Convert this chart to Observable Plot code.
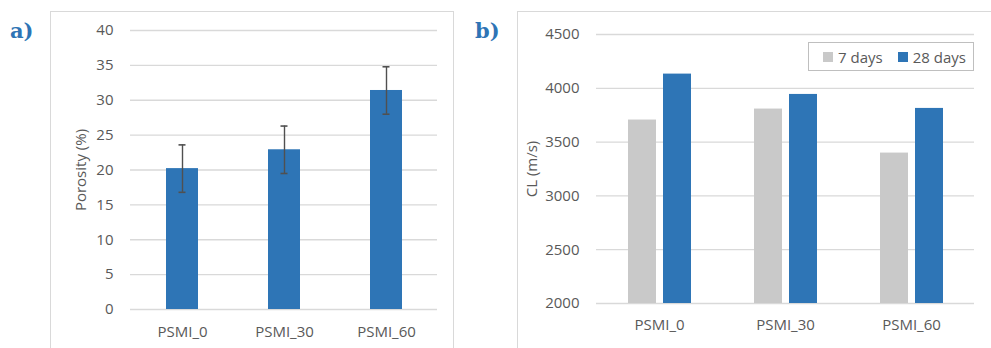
<!DOCTYPE html>
<html>
<head>
<meta charset="utf-8">
<script src="https://cdn.jsdelivr.net/npm/d3@7"></script>
<script src="https://cdn.jsdelivr.net/npm/@observablehq/plot@0.6"></script>
<style>
  html, body { margin: 0; padding: 0; background: #fff; }
  #root { position: relative; width: 991px; height: 348px; overflow: hidden; background: #fff; font-family: "Open Sans", sans-serif; }
  .panel { position: absolute; border: 1px solid #d9d9d9; box-sizing: border-box; }
  .tag { position: absolute; font-family: "DejaVu Serif", "Liberation Serif", serif; font-weight: bold; font-size: 21px; color: #2E74B5; line-height: 1; }
  .chart { position: absolute; top: 0; }
  #legendBox { position: absolute; left: 808px; top: 42px; width: 166px; height: 29px; border: 1px solid #bfbfbf; box-sizing: border-box; background: #fff; display: flex; align-items: center; justify-content: flex-start; padding-left: 14px; overflow: hidden; }
  #legendBox > div { margin: 0 !important; min-height: 0 !important; flex-wrap: nowrap !important; white-space: nowrap; flex: none; }
  #legendBox svg { margin-right: 5px !important; }
</style>
</head>
<body>
<div id="root">
  <div class="panel" style="left:50px; top:11px; width:404px; height:400px;"></div>
  <div class="panel" style="left:517px; top:11px; width:500px; height:400px;"></div>
  <div class="tag" style="left:10px; top:20px;">a)</div>
  <div class="tag" style="left:475px; top:20px;">b)</div>
  <div id="left" class="chart" style="left:0px;"></div>
  <div id="right" class="chart" style="left:480px;"></div>
  <div id="legendBox"></div>
</div>
<script>
// ---- Data ----
const categories = ["PSMI_0", "PSMI_30", "PSMI_60"];
const porosity = [20.2, 22.9, 31.4];
const porosityErr = [3.4, 3.4, 3.4];
const porosityTicks = [0, 5, 10, 15, 20, 25, 30, 35, 40];

const seriesLabels = ["7 days", "28 days"];
const cl7 = [3705, 3807, 3398];
const cl28 = [4132, 3943, 3813];
const clTicks = [2000, 2500, 3000, 3500, 4000, 4500];

// ---- Styles ----
const blue = "#2E75B6";
const gray = "#C9C9C9";
const gridColor = "#D9D9D9";
const textColor = "#595959";

const porosityData = categories.map((c, i) => ({cat: c, v: porosity[i], lo: porosity[i] - porosityErr[i], hi: porosity[i] + porosityErr[i]}));
const clData = categories.flatMap((c, i) => [
  {cat: c, s: seriesLabels[0], v: cl7[i]},
  {cat: c, s: seriesLabels[1], v: cl28[i]}
]);

const baseStyle = {fontFamily: "'Open Sans', sans-serif", fontSize: "15px", color: textColor, background: "transparent", overflow: "visible"};

const left = Plot.plot({
  width: 480, height: 348,
  marginLeft: 130, marginRight: 43, marginTop: 30, marginBottom: 39,
  style: baseStyle,
  x: {domain: categories, paddingInner: 0.69, paddingOuter: 0.345, tickSize: 0, tickPadding: 17, label: null},
  y: {domain: [0, 40], ticks: porosityTicks, tickFormat: d => String(d), tickSize: 0, tickPadding: 17, label: "Porosity (%)", labelAnchor: "center", labelOffset: 55, labelArrow: "none"},
  marks: [
    Plot.ruleY(porosityTicks, {stroke: gridColor, strokeWidth: 1.3}),
    Plot.barY(porosityData, {x: "cat", y: "v", fill: blue}),
    Plot.ruleX(porosityData, {x: "cat", y1: "lo", y2: "hi", stroke: "#505050", strokeWidth: 1.4}),
    Plot.tickY(porosityData, {x: "cat", y: "lo", stroke: "#505050", strokeWidth: 1.6, insetLeft: 12.5, insetRight: 12.5}),
    Plot.tickY(porosityData, {x: "cat", y: "hi", stroke: "#505050", strokeWidth: 1.6, insetLeft: 12.5, insetRight: 12.5})
  ]
});
document.getElementById("left").appendChild(left);

const right = Plot.plot({
  width: 511, height: 348,
  marginLeft: 115, marginRight: 17, marginTop: 34, marginBottom: 45,
  style: baseStyle,
  fx: {domain: categories, paddingInner: 0, paddingOuter: 0, tickSize: 0, tickPadding: 16, label: null, axis: "bottom"},
  x: {domain: seriesLabels, paddingInner: 0.214, paddingOuter: 0.861, axis: null},
  y: {domain: [clTicks[0], clTicks[clTicks.length - 1]], ticks: clTicks, tickFormat: d => String(d), tickSize: 0, tickPadding: 17, label: "CL (m/s)", labelAnchor: "center", labelOffset: 70, labelArrow: "none"},
  color: {domain: seriesLabels, range: [gray, blue]},
  marks: [
    Plot.ruleY(clTicks, {stroke: gridColor, strokeWidth: 1.3}),
    Plot.barY(clData, {fx: "cat", x: "s", y1: clTicks[0], y2: "v", fill: "s"})
  ]
});
document.getElementById("right").appendChild(right);

const legend = right.legend("color", {legend: "swatches", swatchSize: 10, style: {fontFamily: "'Open Sans', sans-serif", fontSize: "15px", color: textColor}});
document.getElementById("legendBox").appendChild(legend);
</script>
</body>
</html>
